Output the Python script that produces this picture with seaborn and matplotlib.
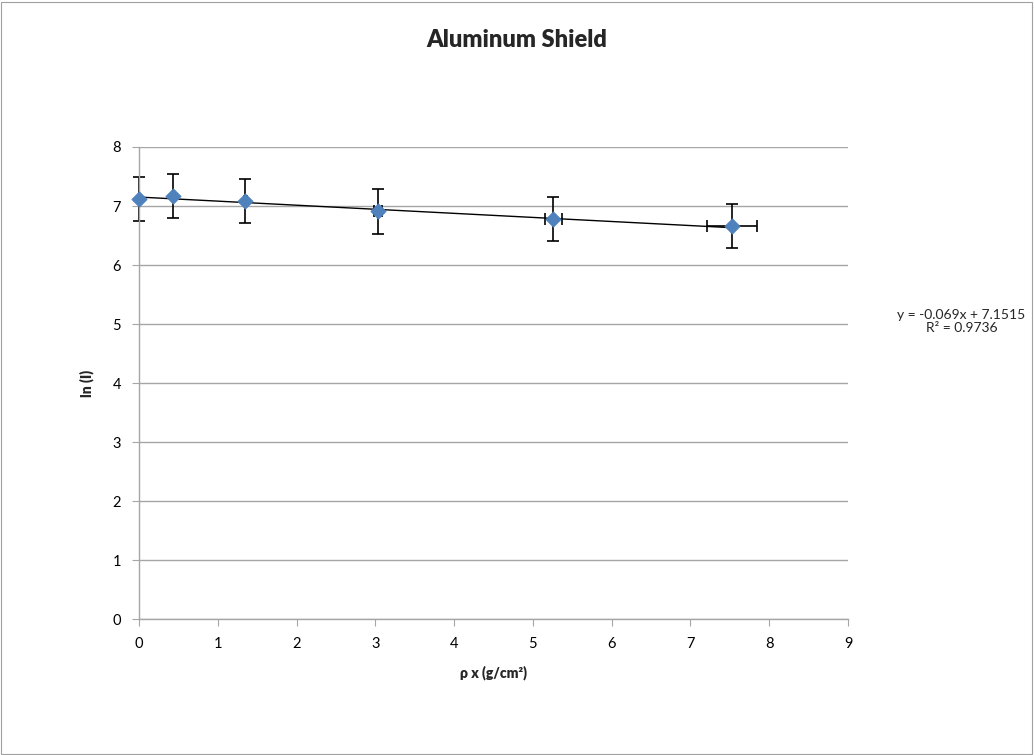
import matplotlib.pyplot as plt
import numpy as np
import seaborn as sns
import pandas as pd
from matplotlib.patches import Rectangle

# data
rho_x = [0.0, 0.43, 1.35, 3.03, 5.26, 7.53]
ln_i = [7.12, 7.17, 7.08, 6.91, 6.78, 6.66]
y_err = [0.37, 0.37, 0.37, 0.38, 0.38, 0.38]
x_err = [0.0, 0.0, 0.02, 0.05, 0.11, 0.32]
slope = -0.069
intercept = 7.1515
r2 = 0.9736

df = pd.DataFrame({'x': rho_x, 'y': ln_i})
fit = pd.DataFrame({'x': [min(rho_x), max(rho_x)]})
fit['y'] = slope * fit['x'] + intercept

sns.set_style('white')
plt.rcParams['font.family'] = ['Lato', 'DejaVu Sans']

fig = plt.figure(figsize=(10.34, 7.55), dpi=100)
ax = fig.add_axes([0.1344, 0.1801, 0.6857, 0.6252])

# chart area border
fig.patches.append(Rectangle((0.001, 0.001), 0.997, 0.997, transform=fig.transFigure,
                             fill=False, edgecolor='#a0a0a0', linewidth=0.8))

eb = ax.errorbar(rho_x, ln_i, yerr=y_err, xerr=x_err, fmt='none', ecolor='black',
                 elinewidth=1.2, capsize=4, capthick=1.2, zorder=2)
for art in eb.lines[1] + eb.lines[2]:
    art.set_clip_on(False)
sns.lineplot(data=fit, x='x', y='y', color='black', linewidth=1.0, ax=ax, zorder=3)
sns.scatterplot(data=df, x='x', y='y', marker='D', s=60, color='#4F81BD',
                edgecolor='#4F81BD', ax=ax, zorder=4, clip_on=False)

ax.set_xlim(0, 9)
ax.set_ylim(0, 8)
ax.set_xticks(range(0, 10))
ax.set_yticks(range(0, 9))
ax.yaxis.grid(True, color='#a6a6a6', linewidth=1)
ax.xaxis.grid(False)
for s in ['top', 'right']:
    ax.spines[s].set_visible(False)
for s in ['left', 'bottom']:
    ax.spines[s].set_color('#a6a6a6')
    ax.spines[s].set_linewidth(1)
ax.tick_params(axis='both', direction='out', length=5, color='#a6a6a6',
               labelsize=10.5, labelcolor='black', bottom=True, left=True, pad=8)

fig.text(0.5, 0.947, 'Aluminum Shield', ha='center', va='center',
         fontsize=17, fontweight='heavy')
ax.set_xlabel('ρ x (g/cm²)', fontsize=10, fontweight='heavy', labelpad=10)
ax.set_ylabel('ln (I)', fontsize=10, fontweight='heavy', labelpad=13)

fig.text(0.992, 0.574, 'y = %.3fx + %.4f\nR² = %.4f' % (slope, intercept, r2),
         ha='right', va='center', multialignment='center',
         fontsize=10, linespacing=1.15)

fig.savefig('out.png', dpi=100)
